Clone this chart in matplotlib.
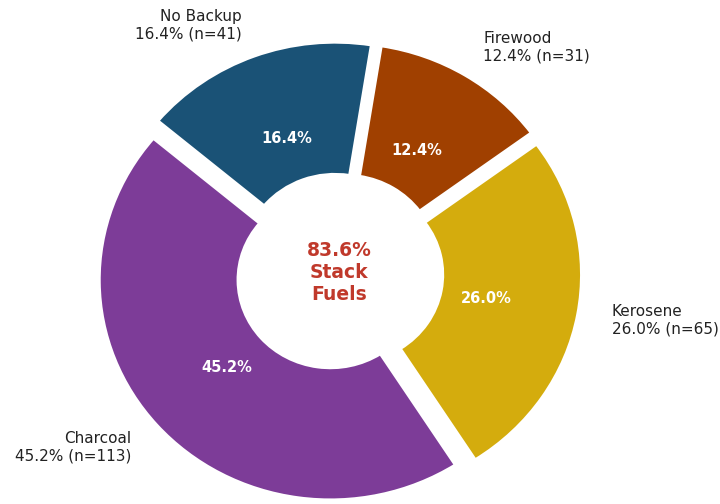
import matplotlib.pyplot as plt

# backup fuel used alongside the main cooking fuel (n=250 households)
fuels = ['Charcoal', 'Kerosene', 'Firewood', 'No Backup']
counts = [113, 65, 31, 41]
shares = [45.2, 26.0, 12.4, 16.4]
stack_share = 83.6

colors = ['#7d3c98', '#d4ac0d', '#a04000', '#1a5276']

labels = [f'{f}\n{s:.1f}% (n={n})' for f, s, n in zip(fuels, shares, counts)]

fig = plt.figure(figsize=(7.2, 5.04), dpi=100)
ax = fig.add_axes([0, 0, 1, 1])

wedges, texts, autotexts = ax.pie(
    counts,
    labels=labels,
    colors=colors,
    autopct='%1.1f%%',
    startangle=140,
    explode=[0.05] * len(counts),
    labeldistance=1.15,
    pctdistance=0.6,
    wedgeprops=dict(width=0.6, edgecolor='white', linewidth=2),
    textprops=dict(fontsize=11, color='#222222'),
)

for t in autotexts:
    t.set_color('white')
    t.set_fontweight('bold')
    t.set_fontsize(10.5)

ax.text(0, 0, f'{stack_share:.1f}%\nStack\nFuels', ha='center', va='center',
        fontsize=13.5, fontweight='bold', color='#c0392b')

# pie is drawn slightly wider than tall
ax.set_aspect('auto')
ax.set_xlim(-1.4675, 1.649)
ax.set_ylim(-1.052, 1.239)
ax.axis('off')

fig.savefig('out.png', dpi=100)
